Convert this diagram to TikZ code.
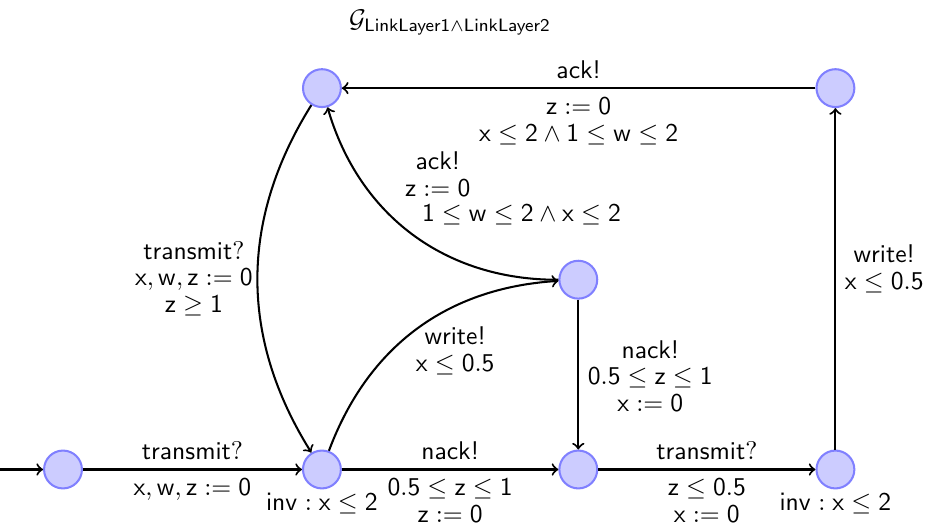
\documentclass[tikz,border=0pt]{standalone}
\usepackage{amsmath}
\usepackage{tikz}
\DeclareSymbolFont{sfup}{OT1}{cmss}{m}{n}
\DeclareMathSymbol{x}{\mathalpha}{sfup}{`x}
\DeclareMathSymbol{w}{\mathalpha}{sfup}{`w}
\DeclareMathSymbol{z}{\mathalpha}{sfup}{`z}
\DeclareMathSymbol{0}{\mathalpha}{sfup}{`0}
\DeclareMathSymbol{1}{\mathalpha}{sfup}{`1}
\DeclareMathSymbol{2}{\mathalpha}{sfup}{`2}
\DeclareMathSymbol{5}{\mathalpha}{sfup}{`5}

\begin{document}
\begin{tikzpicture}[>=to, thick,
		loc/.style={circle, draw=blue!50, fill=blue!20, line width=0.8pt, minimum size=0.52cm, inner sep=0pt},
		lbl/.style={font=\sffamily\fontsize{10}{10.5}\selectfont, align=center}]
	\useasboundingbox (0,0) rectangle (12.7,7.27);
	\node [lbl] (title) at (6.18,6.96) {$\mathcal{G}_{\mathsf{LinkLayer1}\wedge\mathsf{LinkLayer2}}$};
	\coordinate (start) at (0,0.824);
	\node [loc] (l0) at (0.865,0.824) {};
	\node [loc, label={[lbl, inner sep=1pt]below:$\mathsf{inv} : x \leq 2$}] (l1) at (4.42,0.824) {};
	\node [loc] (l2) at (7.94,0.824) {};
	\node [loc, label={[lbl, inner sep=1pt]below:$\mathsf{inv} : x \leq 2$}] (l3) at (11.47,0.824) {};
	\node [loc] (l4) at (4.42,6.06) {};
	\node [loc] (l5) at (7.94,3.43) {};
	\node [loc] (l6) at (11.47,6.06) {};
	\draw [->] (start) -- (l0);
	\draw [->] (l0) -- node [lbl, above] {transmit$?$} node [lbl, below] {$x, w, z := 0$} (l1);
	\draw [->] (l1) -- node [lbl, above] {nack!} node [lbl, below] {$0.5 \leq z \leq 1$\\$z := 0$} (l2);
	\draw [->] (l2) -- node [lbl, above] {transmit$?$} node [lbl, below] {$z \leq 0.5$\\$x := 0$} (l3);
	\draw [->] (l3) -- node [lbl, right, pos=0.53] {write!\\$x \leq 0.5$} (l6);
	\draw [->] (l6) -- node [lbl, above] {ack!} node [lbl, below] {$z := 0$\\$x \leq 2 \wedge 1 \leq w \leq 2$} (l4);
	\draw [->] (l5) -- node [lbl, right, pos=0.51] {nack!\\$0.5 \leq z \leq 1$\\$x := 0$} (l2);
	\draw [->] (l4) to [bend right=32] node [lbl, left, inner sep=1.5pt] {transmit$?$\\$x, w, z := 0$\\$z \geq 1$} (l1);
	\draw [->] (l1) to [bend left=33] node [lbl, below right, xshift=-0.14cm, yshift=0.16cm] {write!\\$x \leq 0.5$} (l5);
	\draw [->] (l5) to [bend left=37] node [lbl, above right] {$1 \leq w \leq 2 \wedge x \leq 2$} node [lbl, pos=0.45, above=0.5cm, xshift=0.18cm] {ack!\\$z := 0$} (l4);
\end{tikzpicture}
\end{document}
